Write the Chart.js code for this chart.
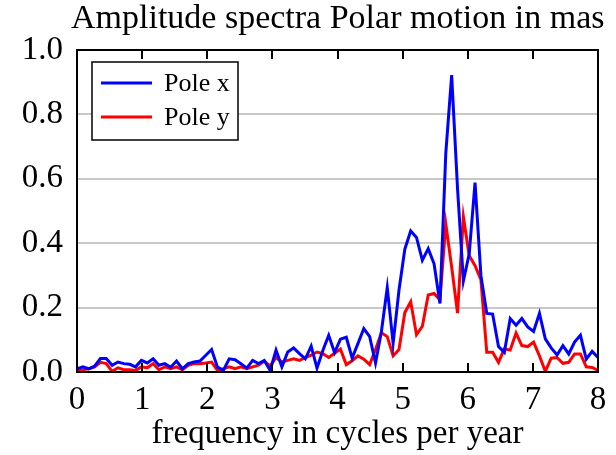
<!DOCTYPE html>
<html>
<head>
<meta charset="utf-8">
<script src="https://cdn.jsdelivr.net/npm/chart.js@4.4.1/dist/chart.umd.min.js"></script>
<style>
  html, body { margin: 0; padding: 0; background: #fff; }
</style>
</head>
<body>
<canvas id="spectrum" width="616" height="455"></canvas>
<script>
// Amplitude spectra of polar motion (mas) vs frequency (cycles per year)
const FONT = '"Liberation Serif", "DejaVu Serif", serif';
const chartTitle = 'Amplitude spectra Polar motion in mas';
const xAxisTitle = 'frequency in cycles per year';
const seriesLabels = ['Pole x', 'Pole y'];
const seriesColors = ['#0000ff', '#ff0000'];

const freq = [
  0.000, 0.090, 0.180, 0.270, 0.360, 0.449, 0.539, 0.629, 0.719, 0.809,
  0.899, 0.989, 1.079, 1.169, 1.258, 1.348, 1.438, 1.528, 1.618, 1.708,
  1.798, 1.888, 1.978, 2.067, 2.157, 2.247, 2.337, 2.427, 2.517, 2.607,
  2.697, 2.787, 2.876, 2.966, 3.056, 3.146, 3.236, 3.326, 3.416, 3.506,
  3.596, 3.685, 3.775, 3.865, 3.955, 4.045, 4.135, 4.225, 4.315, 4.404,
  4.494, 4.584, 4.674, 4.764, 4.854, 4.944, 5.034, 5.124, 5.213, 5.303,
  5.393, 5.483, 5.573, 5.663, 5.753, 5.843, 5.933, 6.022, 6.112, 6.202,
  6.292, 6.382, 6.472, 6.562, 6.652, 6.742, 6.831, 6.921, 7.011, 7.101,
  7.191, 7.281, 7.371, 7.461, 7.551, 7.640, 7.730, 7.820, 7.910, 8.000
];

const poleX = [
  0.010, 0.016, 0.010, 0.018, 0.042, 0.042, 0.021, 0.031, 0.026, 0.024,
  0.016, 0.036, 0.028, 0.041, 0.021, 0.026, 0.015, 0.034, 0.010, 0.026,
  0.031, 0.034, 0.052, 0.070, 0.015, 0.005, 0.041, 0.038, 0.026, 0.012,
  0.036, 0.026, 0.036, 0.005, 0.068, 0.016, 0.062, 0.075, 0.057, 0.041,
  0.080, 0.012, 0.067, 0.114, 0.060, 0.102, 0.108, 0.043, 0.089, 0.135,
  0.110, 0.028, 0.125, 0.262, 0.089, 0.254, 0.382, 0.438, 0.418, 0.347,
  0.383, 0.336, 0.213, 0.680, 0.922, 0.570, 0.283, 0.366, 0.588, 0.300,
  0.182, 0.180, 0.079, 0.061, 0.166, 0.145, 0.166, 0.140, 0.126, 0.182,
  0.103, 0.075, 0.053, 0.082, 0.056, 0.093, 0.114, 0.040, 0.064, 0.045
];

const poleY = [
  0.005, 0.007, 0.010, 0.016, 0.030, 0.026, 0.002, 0.013, 0.007, 0.007,
  0.005, 0.016, 0.013, 0.026, 0.007, 0.016, 0.010, 0.016, 0.007, 0.021,
  0.026, 0.026, 0.028, 0.031, 0.005, 0.010, 0.016, 0.010, 0.016, 0.010,
  0.016, 0.021, 0.034, 0.018, 0.045, 0.031, 0.036, 0.041, 0.036, 0.045,
  0.052, 0.062, 0.057, 0.045, 0.058, 0.071, 0.023, 0.035, 0.050, 0.040,
  0.023, 0.070, 0.122, 0.110, 0.050, 0.070, 0.185, 0.218, 0.116, 0.142,
  0.239, 0.244, 0.224, 0.460, 0.326, 0.183, 0.482, 0.362, 0.330, 0.287,
  0.061, 0.061, 0.030, 0.072, 0.068, 0.121, 0.082, 0.079, 0.093, 0.050,
  0.002, 0.043, 0.045, 0.027, 0.030, 0.056, 0.056, 0.016, 0.014, 0.005
];

const xTicks = [0, 1, 2, 3, 4, 5, 6, 7, 8];
const yTicks = [0, 0.2, 0.4, 0.6, 0.8, 1.0];

function toPoints(ys) {
  return freq.map((f, i) => ({ x: f, y: ys[i] }));
}

// frame, inward x ticks, title and legend box (pgfplots look)
const decorations = {
  id: 'decorations',
  afterDatasetsDraw(chart) {
    const { ctx, chartArea: a, scales } = chart;
    ctx.save();
    ctx.strokeStyle = '#000';
    ctx.lineWidth = 2;
    ctx.strokeRect(a.left, a.top, a.right - a.left, a.bottom - a.top);
    ctx.beginPath();
    xTicks.forEach(t => {
      const px = Math.round(scales.x.getPixelForValue(t));
      ctx.moveTo(px, a.bottom); ctx.lineTo(px, a.bottom - 9);
      ctx.moveTo(px, a.top); ctx.lineTo(px, a.top + 9);
    });
    ctx.stroke();

    // legend
    const lx = 92, ly = 62, lw = 146, lh = 78;
    ctx.fillStyle = '#fff';
    ctx.fillRect(lx, ly, lw, lh);
    ctx.lineWidth = 1.5;
    ctx.strokeRect(lx, ly, lw, lh);
    ctx.font = '26px ' + FONT;
    ctx.textBaseline = 'middle';
    ctx.textAlign = 'left';
    chart.data.datasets.forEach((ds, i) => {
      const y = ly + 21 + i * 34;
      ctx.strokeStyle = ds.borderColor;
      ctx.lineWidth = 3;
      ctx.beginPath();
      ctx.moveTo(lx + 9, y); ctx.lineTo(lx + 60, y);
      ctx.stroke();
      ctx.fillStyle = '#000';
      ctx.fillText(ds.label, lx + 72, y + 1);
    });

    // title
    ctx.font = '34px ' + FONT;
    ctx.textAlign = 'left';
    ctx.textBaseline = 'alphabetic';
    ctx.fillText(chartTitle, 71, 28);
    ctx.restore();
  }
};

new Chart(document.getElementById('spectrum'), {
  type: 'line',
  data: {
    datasets: seriesLabels.map((label, i) => ({
      label: label,
      data: toPoints(i === 0 ? poleX : poleY),
      borderColor: seriesColors[i],
      borderWidth: 3,
      pointRadius: 0,
      tension: 0,
      fill: false
    }))
  },
  options: {
    responsive: false,
    animation: false,
    devicePixelRatio: 1,
    layout: { padding: { top: 50, right: 18, left: 0, bottom: 0 } },
    plugins: {
      legend: { display: false },
      title: { display: false },
      tooltip: { enabled: false }
    },
    scales: {
      x: {
        type: 'linear',
        min: 0, max: 8,
        afterBuildTicks: s => { s.ticks = xTicks.map(v => ({ value: v })); },
        afterFit: s => { s.height = 83; },
        grid: { display: false },
        border: { display: false },
        ticks: { color: '#000', font: { family: FONT, size: 33, lineHeight: 1.1 }, padding: 2, maxRotation: 0 },
        title: {
          display: true, text: xAxisTitle, color: '#000',
          font: { family: FONT, size: 33, lineHeight: 1.1 }, padding: { top: 0, bottom: 3 }
        }
      },
      y: {
        min: 0, max: 1,
        afterBuildTicks: s => { s.ticks = yTicks.map(v => ({ value: v })); },
        afterFit: s => { s.width = 77; },
        grid: { color: '#c8c8c8', lineWidth: 2, drawTicks: false },
        border: { display: false },
        ticks: {
          color: '#000', font: { family: FONT, size: 33 }, padding: 14,
          callback: v => v.toFixed(1)
        }
      }
    }
  },
  plugins: [decorations]
});
</script>
</body>
</html>
